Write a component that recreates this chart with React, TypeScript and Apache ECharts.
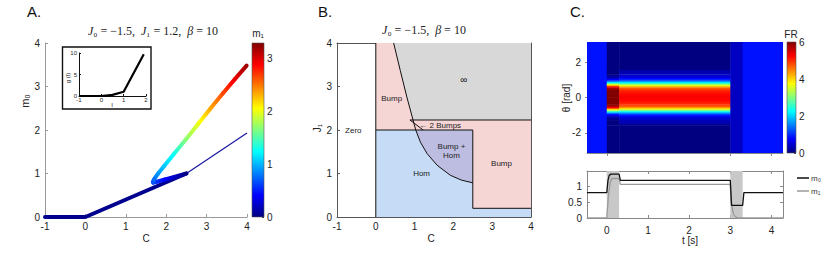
import React, { useEffect, useRef } from "react";
import * as echarts from "echarts";

// ---------- Panel A data ----------
const lowerC = [-1, 0, 2.5];
const lowerM0 = [0, 0, 1.0];
const thinC = [2.5, 4.0];
const thinM0 = [1.0, 1.93];
const branchC = [2.5, 2.2, 1.95, 1.77, 1.68, 1.67, 1.71, 1.8, 1.95, 2.2, 2.5, 2.8, 3.1, 3.4, 3.7, 3.99];
const branchM0 = [1.0, 0.92, 0.86, 0.81, 0.79, 0.81, 0.88, 1.0, 1.17, 1.46, 1.8, 2.15, 2.5, 2.84, 3.17, 3.48];
const branchM1 = [0.0, 0.22, 0.42, 0.56, 0.64, 0.7, 0.78, 0.9, 1.05, 1.3, 1.7, 2.0, 2.35, 2.65, 2.95, 3.2];
const m1Max = 3.3;
const m1Ticks = [0, 1, 2, 3];
const insetI = [-1, 0, 0.5, 1, 1.9];
const insetG = [0, 0, 0.25, 1, 9.7];

// ---------- Panel B data ----------
const curveC = [0.46, 0.63, 0.8, 0.96, 1.03, 1.15, 1.32, 1.58, 1.92, 2.2, 2.5];
const curveJ = [4.0, 3.37, 2.76, 2.23, 2.0, 1.72, 1.46, 1.19, 0.96, 0.85, 0.785];
const bandTop = 2.23;
const homTop = 2.0;
const splitC = 2.5;
const rightBottom = 0.2;
const twoBumpsLeft: [number, number] = [0.88, 2.23];
const twoBumpsTip: [number, number] = [1.22, 2.0];
const bLabels = [
  { text: "Zero", c: -0.58, j: 2.0, size: 8 },
  { text: "Bump", c: 0.41, j: 2.72, size: 8 },
  { text: "∞", c: 2.27, j: 3.15, size: 10 },
  { text: "← 2 Bumps", c: 1.66, j: 2.11, size: 8 },
  { text: "Bump +\nHom", c: 1.95, j: 1.52, size: 8 },
  { text: "Hom", c: 1.18, j: 0.99, size: 8 },
  { text: "Bump", c: 3.24, j: 1.23, size: 8 },
];

// ---------- Panel C data ----------
const tMin = -0.48;
const tMax = 4.28;
const tTicks = [0, 1, 2, 3, 4];
const heatTTicks = [0, 3, 4];
const thetaTicks = [-2, 0, 2];
const frMax = 6;
const frTicks = [0, 2, 4, 6];
const heatTimeEdges = [tMin, 0, 0.3, 3.0, 3.3, tMax];
const thetaNodes = [-3.1416, -1.6, -1.5, -1.3, -1.1, -0.95, -0.85, -0.75, -0.65, -0.55, -0.4, -0.2, 0, 0.2, 0.4, 0.55, 0.65, 0.75, 0.85, 0.95, 1.1, 1.3, 1.5, 1.6, 3.1416];
const frPre = 0.85;
const frTransient = [0, 0, 0, 0, 0.3, 1.0, 2.0, 3.2, 4.5, 5.6, 6, 6, 6, 6, 6, 5.6, 4.5, 3.2, 2.0, 1.0, 0.3, 0, 0, 0, 0];
const frSustained = [0, 0, 0.25, 0.35, 0.6, 1.2, 2.0, 2.9, 3.8, 4.6, 5.0, 5.2, 5.3, 5.2, 5.0, 4.6, 3.8, 2.9, 2.0, 1.2, 0.6, 0.35, 0.25, 0, 0];
const frGap = 0.4;
const frPost = 0.85;
const heatProfiles: (number | number[])[] = [frPre, frTransient, frSustained, frGap, frPost];
const stimOn = [0, 3.0];
const stimOff = [0.3, 3.3];
const traceT0 = [-0.48, 0, 0.03, 0.06, 0.1, 0.3, 0.33, 3.0, 3.03, 3.3, 3.33, 4.28];
const traceM0 = [0.81, 0.81, 1.2, 1.36, 1.4, 1.4, 1.2, 1.2, 0.4, 0.4, 0.81, 0.81];
const traceT1 = [-0.48, 0, 0.04, 0.08, 0.12, 0.3, 0.33, 3.0, 3.02, 3.05, 3.08, 3.12, 3.18, 4.28];
const traceM1 = [0, 0, 0.7, 1.1, 1.26, 1.26, 1.07, 1.07, 0.6, 0.3, 0.12, 0.04, 0, 0];
const traceYTicks = [0, 0.5, 1];

// ---------- helpers ----------
const FONT = "'Liberation Sans', Arial, Helvetica, sans-serif";
const SERIF = "'Liberation Serif', 'DejaVu Serif', serif";

function jet(f: number): string {
  const c = (v: number) => Math.max(0, Math.min(1, v));
  const r = c(1.5 - Math.abs(4 * f - 3));
  const g = c(1.5 - Math.abs(4 * f - 2));
  const b = c(1.5 - Math.abs(4 * f - 1));
  const h = (v: number) => Math.round(v * 255).toString(16).padStart(2, "0");
  return "#" + h(r) + h(g) + h(b);
}

function jetStops(fa: number, fb: number) {
  const stops: { offset: number; color: string }[] = [{ offset: 0, color: jet(fa) }];
  if (fa !== fb) {
    const inner = [0.125, 0.375, 0.625, 0.875]
      .filter((b) => (b - fa) * (b - fb) < 0)
      .map((b) => ({ offset: (b - fa) / (fb - fa), color: jet(b) }))
      .sort((a, b) => a.offset - b.offset);
    stops.push(...inner);
  }
  stops.push({ offset: 1, color: jet(fb) });
  return stops;
}

const zip = (a: number[], b: number[]) => a.map((v, i) => [v, b[i]]);

function buildOption() {
  const branchSegs: number[][] = [];
  for (let i = 0; i < branchC.length - 1; i++) {
    branchSegs.push([branchC[i], branchM0[i], branchC[i + 1], branchM0[i + 1], branchM1[i], branchM1[i + 1]]);
  }

  const curvePts = zip(curveC, curveJ) as [number, number][];
  const bRegions = [
    { fill: "#f6d5d5", pts: [[0, 0], [4, 0], [4, 4], [0, 4]] },
    { fill: "#d8d8d8", pts: [...curvePts.slice(0, 4), [4, bandTop], [4, 4]] },
    { fill: "#c6dcf6", pts: [[0, 0], [0, homTop], ...curvePts.slice(4), [splitC, rightBottom], [4, rightBottom], [4, 0]] },
    { fill: "#bdbde2", pts: [...curvePts.slice(4), [splitC, homTop]] },
  ];
  const bLines = [
    [[0, 0], [0, 4]],
    [[0, homTop], [splitC, homTop]],
    [[splitC, homTop], [splitC, rightBottom]],
    [[splitC, rightBottom], [4, rightBottom]],
    [twoBumpsLeft, [4, bandTop]],
    [twoBumpsLeft, twoBumpsTip],
    curvePts,
  ];

  const heatCells: number[][] = [];
  heatProfiles.forEach((p, s) => {
    const t0 = heatTimeEdges[s];
    const t1 = heatTimeEdges[s + 1];
    if (typeof p === "number") {
      heatCells.push([t0, t1, thetaNodes[0], thetaNodes[thetaNodes.length - 1], p, p]);
    } else {
      for (let j = 0; j < thetaNodes.length - 1; j++) {
        heatCells.push([t0, t1, thetaNodes[j], thetaNodes[j + 1], p[j], p[j + 1]]);
      }
    }
  });

  const lbl = (extra: any = {}) => ({ color: "#222", fontSize: 10, fontFamily: FONT, ...extra });
  const line = (color: string) => ({ show: true, onZero: false, lineStyle: { color, width: 1 } });
  const noLine = { show: false, onZero: false };
  const tickIn = (color: string, extra: any = {}) => ({ show: true, inside: true, length: 3, lineStyle: { color }, ...extra });
  const hidden = { show: false };

  const grids = [
    { left: 45, top: 43, width: 202, height: 174 }, // 0 A
    { left: 252, top: 43, width: 12, height: 174 }, // 1 A cbar
    { left: 79, top: 53, width: 67, height: 43 }, // 2 inset
    { left: 337, top: 43, width: 194, height: 174 }, // 3 B
    { left: 587, top: 42, width: 196, height: 111 }, // 4 C heat
    { left: 787, top: 42, width: 9, height: 111 }, // 5 C cbar
    { left: 587, top: 171, width: 196, height: 47 }, // 6 C trace
  ];

  // axis index: 0 A, 1 A cbar, 2 inset, 3 B, 4 B(top/right), 5 C heat, 6 C cbar, 7 trace, 8 trace(top/right)
  const xAxis: any[] = [
    { gridIndex: 0, type: "value", min: -1, max: 4, interval: 1, axisLine: line("#9a9a9a"), axisTick: tickIn("#9a9a9a"), axisLabel: lbl({ margin: 4 }), splitLine: hidden },
    { gridIndex: 1, type: "value", min: 0, max: 1, show: false },
    { gridIndex: 2, type: "value", min: -1, max: 2, interval: 1, axisLine: line("#111"), axisTick: tickIn("#111", { length: 2 }), axisLabel: lbl({ fontSize: 6, margin: 1 }), splitLine: hidden },
    { gridIndex: 3, type: "value", min: -1, max: 4, interval: 1, axisLine: line("#555"), axisTick: tickIn("#555"), axisLabel: lbl({ margin: 4 }), splitLine: hidden },
    { gridIndex: 3, type: "value", position: "top", min: -1, max: 4, interval: 1, axisLine: line("#555"), axisTick: tickIn("#555"), axisLabel: hidden, splitLine: hidden },
    { gridIndex: 4, type: "value", min: tMin, max: tMax, axisLine: line("#888"), axisTick: { show: true, inside: false, length: 3, lineStyle: { color: "#888" }, customValues: heatTTicks }, axisLabel: hidden, splitLine: hidden },
    { gridIndex: 5, type: "value", min: 0, max: 1, show: false },
    { gridIndex: 6, type: "value", min: tMin, max: tMax, axisLine: line("#888"), axisTick: { show: true, inside: true, length: 3, lineStyle: { color: "#888" }, customValues: tTicks }, axisLabel: lbl({ margin: 7, customValues: tTicks }), splitLine: hidden },
    { gridIndex: 6, type: "value", position: "top", min: tMin, max: tMax, axisLine: line("#888"), axisTick: { show: true, inside: true, length: 3, lineStyle: { color: "#888" }, customValues: tTicks }, axisLabel: hidden, splitLine: hidden },
  ];

  const yAxis: any[] = [
    { gridIndex: 0, type: "value", min: 0, max: 4, interval: 1, axisLine: line("#9a9a9a"), axisTick: tickIn("#9a9a9a"), axisLabel: lbl({ margin: 5 }), splitLine: hidden },
    { gridIndex: 1, type: "value", position: "right", min: 0, max: m1Max, axisLine: noLine, axisTick: { show: true, inside: true, length: 2, lineStyle: { color: "#444" }, customValues: m1Ticks }, axisLabel: lbl({ margin: 3, customValues: m1Ticks }), splitLine: hidden },
    { gridIndex: 2, type: "value", min: 0, max: 10, interval: 5, axisLine: line("#111"), axisTick: tickIn("#111", { length: 2 }), axisLabel: lbl({ fontSize: 6, margin: 2 }), splitLine: hidden },
    { gridIndex: 3, type: "value", min: 0, max: 4, interval: 1, axisLine: line("#555"), axisTick: tickIn("#555"), axisLabel: lbl({ margin: 5 }), splitLine: hidden },
    { gridIndex: 3, type: "value", position: "right", min: 0, max: 4, interval: 1, axisLine: line("#555"), axisTick: tickIn("#555"), axisLabel: hidden, splitLine: hidden },
    { gridIndex: 4, type: "value", min: -3.1416, max: 3.1416, axisLine: noLine, axisTick: { show: true, inside: false, length: 2, lineStyle: { color: "#888" }, customValues: thetaTicks }, axisLabel: lbl({ margin: 6, customValues: thetaTicks }), splitLine: hidden },
    { gridIndex: 5, type: "value", position: "right", min: 0, max: frMax, axisLine: noLine, axisTick: { show: true, inside: true, length: 2, lineStyle: { color: "#444" }, customValues: frTicks }, axisLabel: lbl({ margin: 3, customValues: frTicks }), splitLine: hidden },
    { gridIndex: 6, type: "value", min: 0, max: 1.5, axisLine: line("#888"), axisTick: { show: true, inside: true, length: 3, lineStyle: { color: "#888" }, customValues: traceYTicks }, axisLabel: lbl({ margin: 5, customValues: traceYTicks }), splitLine: hidden },
    { gridIndex: 6, type: "value", position: "right", min: 0, max: 1.5, axisLine: line("#888"), axisTick: { show: true, inside: true, length: 3, lineStyle: { color: "#888" }, customValues: traceYTicks }, axisLabel: hidden, splitLine: hidden },
  ];

  const colorbarItem = (maxV: number) => (params: any, api: any) => {
    const tl = api.coord([0, maxV]);
    const br = api.coord([1, 0]);
    return {
      type: "rect",
      shape: { x: tl[0], y: tl[1], width: br[0] - tl[0], height: br[1] - tl[1] },
      style: { fill: new echarts.graphic.LinearGradient(0, 0, 0, 1, jetStops(1, 0)), stroke: "#555", lineWidth: 0.6 },
    };
  };

  const series: any[] = [
    // ---- A ----
    {
      type: "line", xAxisIndex: 0, yAxisIndex: 0, data: zip(thinC, thinM0), symbol: "none",
      lineStyle: { color: "#1c1ca6", width: 1.3 }, z: 2,
    },
    {
      type: "line", xAxisIndex: 0, yAxisIndex: 0, data: zip(lowerC, lowerM0), symbol: "none",
      lineStyle: { color: "#00008f", width: 4, cap: "round", join: "round" }, z: 3,
    },
    {
      type: "custom", xAxisIndex: 0, yAxisIndex: 0, data: branchSegs, encode: { x: [0, 2], y: [1, 3] }, z: 4,
      renderItem: (params: any, api: any) => {
        const p0 = api.coord([api.value(0), api.value(1)]);
        const p1 = api.coord([api.value(2), api.value(3)]);
        const f0 = api.value(4) / m1Max;
        const f1 = api.value(5) / m1Max;
        return {
          type: "line",
          shape: { x1: p0[0], y1: p0[1], x2: p1[0], y2: p1[1] },
          style: { stroke: new echarts.graphic.LinearGradient(p0[0], p0[1], p1[0] + 0.01, p1[1] + 0.01, jetStops(f0, f1), true), lineWidth: 4, lineCap: "round" },
        };
      },
    },
    { type: "custom", xAxisIndex: 1, yAxisIndex: 1, data: [[0, 0, 1, m1Max]], encode: { x: [0, 2], y: [1, 3] }, renderItem: colorbarItem(m1Max) },
    {
      type: "line", xAxisIndex: 2, yAxisIndex: 2, data: zip(insetI, insetG), symbol: "none",
      lineStyle: { color: "#000", width: 2.2 }, z: 12,
    },
    // ---- B ----
    {
      type: "custom", xAxisIndex: 3, yAxisIndex: 3, data: bRegions.map((r) => r.pts[0]), z: 2,
      renderItem: (params: any, api: any) => {
        const r = bRegions[params.dataIndex];
        return { type: "polygon", shape: { points: r.pts.map((p) => api.coord(p)) }, style: { fill: r.fill } };
      },
    },
    {
      type: "custom", xAxisIndex: 3, yAxisIndex: 3, data: bLines.map((l) => l[0]), z: 3,
      renderItem: (params: any, api: any) => {
        const l = bLines[params.dataIndex];
        return { type: "polyline", shape: { points: l.map((p) => api.coord(p)) }, style: { stroke: "#111", lineWidth: 1, fill: "none" } };
      },
    },
    {
      type: "custom", xAxisIndex: 3, yAxisIndex: 3, data: bLabels.map((t) => [t.c, t.j]), z: 4,
      renderItem: (params: any, api: any) => {
        const t = bLabels[params.dataIndex];
        const p = api.coord([t.c, t.j]);
        return { type: "text", x: p[0], y: p[1], style: { text: t.text, fill: "#222", fontSize: t.size, fontFamily: FONT, align: "center", verticalAlign: "middle", lineHeight: 9 } };
      },
    },
    // ---- C heat ----
    {
      type: "custom", xAxisIndex: 5, yAxisIndex: 5, data: heatCells, encode: { x: [0, 1], y: [2, 3] }, z: 2,
      renderItem: (params: any, api: any) => {
        const tl = api.coord([api.value(0), api.value(3)]);
        const br = api.coord([api.value(1), api.value(2)]);
        const padR = api.value(1) < tMax ? 0.5 : 0;
        const padT = api.value(3) < 3.14 ? 0.4 : 0;
        return {
          type: "rect",
          shape: { x: tl[0], y: tl[1] - padT, width: br[0] - tl[0] + padR, height: br[1] - tl[1] + padT },
          style: { fill: new echarts.graphic.LinearGradient(0, 0, 0, 1, jetStops(api.value(5) / frMax, api.value(4) / frMax)) },
        };
      },
    },
    { type: "custom", xAxisIndex: 6, yAxisIndex: 6, data: [[0, 0, 1, frMax]], encode: { x: [0, 2], y: [1, 3] }, renderItem: colorbarItem(frMax) },
    // ---- C trace ----
    {
      type: "custom", xAxisIndex: 7, yAxisIndex: 7, data: stimOn.map((t, i) => [t, stimOff[i]]), encode: { x: [0, 1] }, z: 1,
      renderItem: (params: any, api: any) => {
        const tl = api.coord([api.value(0), 1.5]);
        const br = api.coord([api.value(1), 0]);
        return { type: "rect", shape: { x: tl[0], y: tl[1], width: br[0] - tl[0], height: br[1] - tl[1] }, style: { fill: "#c8c8c8" } };
      },
    },
    {
      name: "m₀", type: "line", xAxisIndex: 7, yAxisIndex: 7, data: zip(traceT0, traceM0), symbol: "none",
      lineStyle: { color: "#111", width: 1.3 }, itemStyle: { color: "#111" }, z: 4,
    },
    {
      name: "m₁", type: "line", xAxisIndex: 7, yAxisIndex: 7, data: zip(traceT1, traceM1), symbol: "none",
      lineStyle: { color: "#9a9a9a", width: 1.3 }, itemStyle: { color: "#9a9a9a" }, z: 3,
    },
  ];

  const titleRich = {
    i: { fontFamily: SERIF, fontStyle: "italic", fontSize: 12, fill: "#222" },
    n: { fontFamily: SERIF, fontSize: 12, fill: "#222" },
  };

  const graphic: any[] = [
    { type: "rect", shape: { x: 62.5, y: 47, width: 88.5, height: 62 }, style: { fill: "#fff", stroke: "#111", lineWidth: 1.4 }, z: -1 },
    { type: "text", left: 27, top: 4, style: { text: "A.", fontSize: 15, fontFamily: FONT, fill: "#111" } },
    { type: "text", left: 318, top: 4, style: { text: "B.", fontSize: 15, fontFamily: FONT, fill: "#111" } },
    { type: "text", left: 570, top: 4, style: { text: "C.", fontSize: 15, fontFamily: FONT, fill: "#111" } },
    {
      type: "text", x: 153, y: 31, style: {
        text: "{i|J}{n|₀ = −1.5,  }{i|J}{n|₁ = 1.2,  }{i|β}{n| = 10}", rich: titleRich, align: "center", verticalAlign: "middle",
      },
    },
    {
      type: "text", x: 424, y: 30, style: {
        text: "{i|J}{n|₀ = −1.5,  }{i|β}{n| = 10}", rich: titleRich, align: "center", verticalAlign: "middle",
      },
    },
    { type: "text", x: 112, y: 104.5, style: { text: "I", fontSize: 6, fontFamily: FONT, fill: "#222", align: "center", verticalAlign: "middle" }, z: 20 },
    { type: "text", x: 68, y: 78, rotation: Math.PI / 2, style: { text: "g (I)", fontSize: 6, fontFamily: FONT, fill: "#222", align: "center", verticalAlign: "middle" }, z: 20 },
    { type: "text", x: 25, y: 101, rotation: Math.PI / 2, style: { text: "m₀", fontSize: 11, fontFamily: FONT, fill: "#222", align: "center", verticalAlign: "middle" } },
    { type: "text", x: 146, y: 238, style: { text: "C", fontSize: 10, fontFamily: FONT, fill: "#222", align: "center", verticalAlign: "middle" } },
    { type: "text", x: 258, y: 33, style: { text: "m₁", fontSize: 10, fontFamily: FONT, fill: "#222", align: "center", verticalAlign: "middle" } },
    { type: "text", x: 317, y: 128, rotation: Math.PI / 2, style: { text: "J₁", fontSize: 10, fontFamily: FONT, fill: "#222", align: "center", verticalAlign: "middle" } },
    { type: "text", x: 431, y: 238, style: { text: "C", fontSize: 10, fontFamily: FONT, fill: "#222", align: "center", verticalAlign: "middle" } },
    { type: "text", x: 566, y: 98, rotation: Math.PI / 2, style: { text: "θ [rad]", fontSize: 10, fontFamily: FONT, fill: "#222", align: "center", verticalAlign: "middle" } },
    { type: "text", x: 791, y: 34, style: { text: "FR", fontSize: 10, fontFamily: FONT, fill: "#222", align: "center", verticalAlign: "middle" } },
    { type: "text", x: 690, y: 240, style: { text: "t [s]", fontSize: 10, fontFamily: FONT, fill: "#222", align: "center", verticalAlign: "middle" } },
  ];

  return {
    animation: false,
    backgroundColor: "#fff",
    textStyle: { fontFamily: FONT },
    grid: grids,
    xAxis,
    yAxis,
    series,
    graphic,
    legend: {
      data: ["m₀", "m₁"], left: 792, top: 169, orient: "vertical", icon: "rect", itemWidth: 12, itemHeight: 1.5, itemGap: 5,
      textStyle: { fontSize: 8, color: "#333", fontFamily: FONT, padding: [0, 0, 0, -3] }, selectedMode: false,
    },
  };
}

export default function App() {
  const ref = useRef<HTMLDivElement>(null);
  useEffect(() => {
    if (!ref.current) return;
    const chart = echarts.init(ref.current, undefined, { renderer: "svg" });
    chart.setOption(buildOption() as any);
    return () => chart.dispose();
  }, []);
  return <div ref={ref} style={{ position: "absolute", left: 0, top: 0, width: 830, height: 255, background: "#fff" }} />;
}
